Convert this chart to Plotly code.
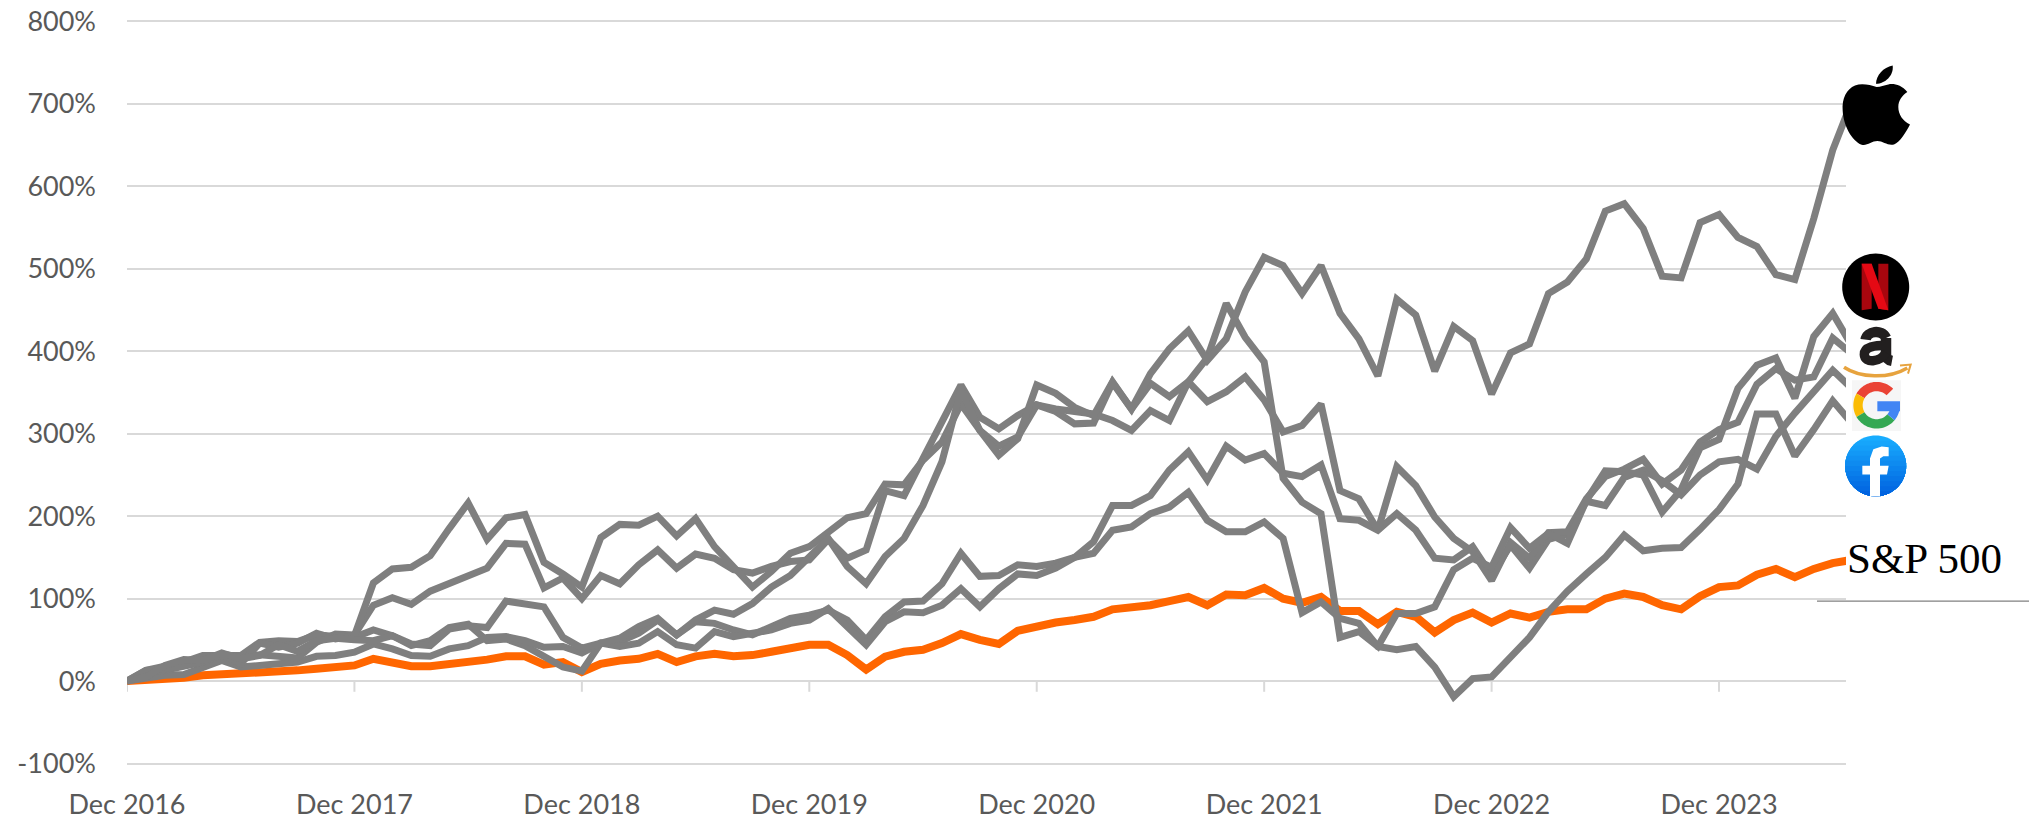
import math
import plotly.graph_objects as go

MONTH_NAMES = ["Jan", "Feb", "Mar", "Apr", "May", "Jun", "Jul", "Aug", "Sep", "Oct", "Nov", "Dec"]
months = ["Dec 2016"] + [f"{MONTH_NAMES[m]} {y}" for y in range(2017, 2025) for m in range(12)]
months = months[:92]
tick_labels = ["Dec 2016", "Dec 2017", "Dec 2018", "Dec 2019", "Dec 2020", "Dec 2021", "Dec 2022", "Dec 2023"]
y_ticks = [-100, 0, 100, 200, 300, 400, 500, 600, 700, 800]
y_tick_labels = ["-100%", "0%", "100%", "200%", "300%", "400%", "500%", "600%", "700%", "800%"]

apple = [0,
    5, 19, 26, 25, 34, 27, 31, 44, 36, 49, 52, 50,
    49, 55, 45, 43, 63, 67, 65, 97, 94, 90, 53, 40,
    46, 52, 66, 76, 56, 74, 86, 81, 94, 114, 128, 152,
    173, 139, 118, 151, 173, 213, 266, 353, 304, 274, 294, 359,
    349, 332, 322, 363, 330, 373, 403, 425, 389, 415, 472, 514,
    504, 470, 504, 446, 415, 370, 463, 444, 376, 430, 413, 348,
    398, 409, 470, 484, 512, 570, 579, 549, 491, 489, 556, 566,
    538, 527, 493, 487, 561, 644, 703]
netflix = [0,
    13, 15, 19, 23, 32, 21, 46, 41, 46, 58, 51, 55,
    119, 136, 138, 152, 185, 216, 172, 198, 202, 144, 130, 114,
    174, 190, 189, 200, 176, 197, 163, 139, 114, 133, 155, 163,
    181, 198, 203, 239, 238, 268, 290, 336, 304, 285, 296, 335,
    330, 326, 324, 316, 304, 328, 316, 363, 392, 458, 417, 387,
    246, 217, 203, 53, 60, 42, 82, 82, 90, 135, 149, 138,
    186, 161, 179, 167, 219, 255, 254, 250, 205, 232, 283, 293,
    355, 383, 392, 343, 418, 446, 407]
amazon = [0,
    10, 13, 18, 23, 33, 29, 32, 31, 28, 47, 57, 56,
    92, 101, 93, 109, 118, 127, 137, 167, 166, 113, 125, 100,
    128, 118, 141, 159, 137, 154, 149, 135, 131, 139, 145, 147,
    172, 149, 159, 231, 225, 270, 316, 359, 320, 306, 322, 335,
    327, 312, 313, 362, 330, 361, 345, 363, 339, 351, 369, 341,
    302, 310, 336, 231, 221, 183, 260, 237, 199, 173, 157, 122,
    168, 149, 180, 181, 221, 248, 257, 269, 239, 256, 290, 305,
    314, 360, 379, 365, 369, 416, 397]
google = [0,
    4, 7, 8, 17, 25, 17, 19, 21, 23, 30, 31, 35,
    45, 39, 31, 30, 39, 43, 53, 54, 49, 41, 42, 34,
    46, 42, 46, 60, 44, 40, 60, 54, 58, 62, 70, 74,
    88, 66, 44, 72, 84, 83, 92, 112, 90, 112, 130, 128,
    137, 150, 169, 213, 213, 225, 256, 278, 244, 285, 268, 276,
    252, 248, 262, 197, 195, 183, 203, 183, 149, 147, 163, 128,
    165, 137, 172, 178, 218, 213, 247, 256, 243, 226, 250, 266,
    269, 257, 297, 325, 350, 377, 355]
facebook = [0,
    13, 18, 23, 31, 32, 31, 47, 49, 48, 56, 54, 53,
    62, 55, 43, 49, 65, 69, 49, 51, 43, 29, 17, 12,
    46, 48, 58, 74, 56, 72, 70, 62, 56, 66, 76, 80,
    86, 74, 50, 78, 96, 97, 118, 155, 127, 128, 141, 139,
    143, 150, 155, 183, 187, 203, 211, 229, 195, 181, 181, 193,
    173, 83, 96, 76, 70, 42, 38, 42, 17, -19, 3, 5,
    28, 53, 84, 109, 130, 150, 177, 158, 161, 162, 184, 208,
    239, 324, 324, 273, 305, 340, 313]
sp500 = [0,
    1, 3, 4, 7, 8, 9, 10, 10.5, 13, 15, 18, 19,
    27, 22, 18, 18, 20, 22, 26, 30, 30, 20, 23, 11,
    21, 25, 27, 33, 23, 30, 33, 30, 31.5, 35.5, 40, 44,
    44, 31.5, 14, 29.5, 35.5, 38, 46, 57, 50, 45, 61, 67,
    71, 74, 78, 87, 89, 92, 97, 102, 92, 105, 104, 113,
    100, 95, 102, 85, 85, 69, 84, 78, 59, 74, 83, 71,
    82, 77, 84, 87, 87, 100, 106, 102, 92, 87, 103, 114,
    116, 129, 136, 126, 136, 143, 147]

GRAY = "#7f7f7f"
ORANGE = "#ff6600"
GRID = "#d9d9d9"
TEXT = "#595959"

# the page puts the figure 8 px in from its top-left corner
PAGE = 8
FIG_W, FIG_H = 2037 - PAGE, 820 - PAGE
# plot-area box in reference (screen) pixels; y range runs 3 units past the end grid lines
Y_PAD = 3
L, R, T, B = 127, 1846, 21 - Y_PAD * 0.825, 763.5 + Y_PAD * 0.825


def px(x, y):
    return (x - L) / (R - L), 1 - (y - T) / (B - T)


def path(points, close=True):
    parts = []
    for i, p in enumerate(points):
        x, y = px(*p)
        parts.append(("M" if i == 0 else "L") + f"{x:.5f},{y:.5f}")
    return " ".join(parts) + (" Z" if close else "")


def bez(segments):
    """segments: start point followed by (c1, c2, end) cubic triples, in pixels."""
    x, y = px(*segments[0])
    out = [f"M{x:.5f},{y:.5f}"]
    for seg in segments[1:]:
        coords = []
        for p in seg:
            a, b = px(*p)
            coords.append(f"{a:.5f},{b:.5f}")
        out.append("C" + " ".join(coords))
    return " ".join(out)


def shape_path(d, fill=None, line=None, width=0):
    return dict(type="path", xref="paper", yref="paper", path=d,
                fillcolor=fill if fill else "rgba(0,0,0,0)",
                line=dict(color=line if line else "rgba(0,0,0,0)", width=width),
                layer="above")


def z7(x, y):  # apple crop
    return 1820 + x / 3, 50 + y / 3


def z8(x, y):  # netflix / amazon crop
    return 1820 + x / 3, 245 + y / 3


def z9(x, y):  # google / facebook crop
    return 1820 + x / 3, 375 + y / 3


def curve(f, start, *triples):
    return bez([f(*start)] + [tuple(f(*p) for p in t) for t in triples])


shapes = []

# small tick marks under the zero line
for lab in tick_labels:
    shapes.append(dict(type="line", xref="x", yref="y", x0=lab, x1=lab, y0=0, y1=-13,
                       line=dict(color=GRID, width=2), layer="below"))

# rule beneath the S&P 500 label
shapes.append(dict(type="line", xref="paper", yref="paper",
                   x0=px(1817, 601)[0], x1=px(2033, 601)[0], y0=px(1817, 601)[1], y1=px(2033, 601)[1],
                   line=dict(color="#808080", width=1.2), layer="above"))

# Apple
d = curve(z7, (170, 110),
          ((150, 103), (125, 98), (105, 105)),
          ((80, 115), (65, 145), (68, 180)),
          ((70, 225), (95, 270), (125, 283)),
          ((140, 288), (155, 272), (172, 272)),
          ((190, 272), (205, 288), (222, 282)),
          ((240, 275), (258, 245), (270, 222)),
          ((248, 212), (235, 192), (235, 170)),
          ((235, 150), (247, 135), (262, 125)),
          ((245, 103), (220, 98), (205, 102)),
          ((192, 104), (182, 110), (170, 110))) + " Z"
shapes.append(shape_path(d, fill="#000000"))
d = curve(z7, (168, 100), ((168, 75), (190, 50), (218, 45)), ((222, 75), (195, 100), (168, 100))) + " Z"
shapes.append(shape_path(d, fill="#000000"))


def circle(cx, cy, r, n=72):
    return [(cx + r * math.cos(2 * math.pi * i / n), cy + r * math.sin(2 * math.pi * i / n)) for i in range(n)]


# Netflix
shapes.append(shape_path(path(circle(1875.7, 286.7, 33.5)), fill="#000000"))
shapes.append(shape_path(path([z8(125, 55), z8(155, 55), z8(155, 190), z8(125, 195)]), fill="#a8060e"))
shapes.append(shape_path(path([z8(175, 55), z8(205, 55), z8(205, 195), z8(175, 190)]), fill="#a8060e"))
shapes.append(shape_path(path([z8(125, 55), z8(155, 55), z8(205, 195), z8(175, 190)]), fill="#e50914"))

# Amazon
d = curve(z8, (137, 283), ((140, 258), (185, 250), (198, 278))) + " " + \
    curve(z8, (198, 278), ((198, 278), (198, 325), (198, 325))) + " " + \
    curve(z8, (198, 325), ((198, 340), (205, 345), (216, 347)))
shapes.append(shape_path(d, line="#221f1f", width=10.5))
d = curve(z8, (198, 300), ((165, 300), (132, 305), (133, 328)),
          ((134, 355), (180, 352), (198, 322)))
shapes.append(shape_path(d, line="#221f1f", width=9.5))
d = curve(z8, (72, 366), ((120, 398), (205, 402), (262, 368)))
shapes.append(shape_path(d, line="#e7a33e", width=3.5))
shapes.append(shape_path(path([z8(240, 361), z8(272, 358), z8(264, 385)], close=False), line="#e7a33e", width=2))

# Google
shapes.append(shape_path(path([z9(96, 15), z9(243, 15), z9(243, 167), z9(96, 167)]), fill="#f6f6f6"))


def ring(a0, a1, steps=24):
    cx, cy = z9(170, 90)
    ro, ri = 70 / 3, 42 / 3
    pts = []
    for i in range(steps + 1):
        a = math.radians(a0 + (a1 - a0) * i / steps)
        pts.append((cx + ro * math.cos(a), cy - ro * math.sin(a)))
    for i in range(steps + 1):
        a = math.radians(a1 + (a0 - a1) * i / steps)
        pts.append((cx + ri * math.cos(a), cy - ri * math.sin(a)))
    return path(pts)


shapes.append(shape_path(ring(45, 150), fill="#ea4335"))
shapes.append(shape_path(ring(150, 210), fill="#fbbc05"))
shapes.append(shape_path(ring(210, 320), fill="#34a853"))
shapes.append(shape_path(ring(-40, 0), fill="#4285f4"))
shapes.append(shape_path(path([z9(172, 78), z9(240, 78), z9(240, 108), z9(172, 108)]), fill="#4285f4"))

# Facebook: vertical shade built from stacked bands of the circle
fb_cx, fb_cy, fb_r = 1875.7, 465.7, 30.5
top_rgb, bot_rgb = (24, 172, 254), (1, 99, 224)
bands = 12
for b in range(bands):
    t = b / (bands - 1)
    col = "rgb(%d,%d,%d)" % tuple(round(top_rgb[k] + (bot_rgb[k] - top_rgb[k]) * t) for k in range(3))
    y0 = fb_cy - fb_r + 2 * fb_r * b / bands
    pts = []
    for i in range(73):
        a = math.radians(i * 5)
        x_, y_ = fb_cx + fb_r * math.cos(a), fb_cy + fb_r * math.sin(a)
        pts.append((x_, max(y_, y0)))
    shapes.append(shape_path(path(pts), fill=col))
f_pts = [z9(150, 364), z9(150, 298), z9(127, 298), z9(127, 272), z9(150, 272), z9(150, 250),
         z9(160, 222), z9(185, 214), z9(206, 216), z9(206, 243), z9(190, 243), z9(180, 250),
         z9(180, 272), z9(206, 272), z9(201, 298), z9(180, 298), z9(180, 364)]
shapes.append(shape_path(path(f_pts), fill="#ffffff"))

fig = go.Figure()
series = [("S&P 500", sp500, ORANGE, 8), ("Facebook", facebook, GRAY, 7), ("Google", google, GRAY, 7),
          ("Amazon", amazon, GRAY, 7), ("Netflix", netflix, GRAY, 7), ("Apple", apple, GRAY, 7)]
for name, values, color, width in series:
    fig.add_trace(go.Scatter(x=months, y=values, name=name, mode="lines",
                             line=dict(color=color, width=width, shape="linear"),
                             hoverinfo="x+y+name"))

fig.add_annotation(xref="paper", yref="paper", x=px(1845, 0)[0], y=px(0, 558)[1], xanchor="left", yanchor="middle",
                   text="S&P 500", showarrow=False,
                   font=dict(family="Liberation Serif", size=43, color="#000000"))

fig.update_layout(
    width=FIG_W, height=FIG_H, autosize=False,
    margin=dict(l=L - PAGE, r=FIG_W - (R - PAGE), t=T - PAGE, b=FIG_H - (B - PAGE), pad=0),
    paper_bgcolor="#ffffff", plot_bgcolor="#ffffff", showlegend=False,
    font=dict(family="Lato", size=27, color=TEXT),
    shapes=shapes,
    xaxis=dict(type="category", categoryorder="array", categoryarray=months, range=[0, 90.7],
               tickmode="array", tickvals=tick_labels, ticktext=tick_labels, ticks="",
               showgrid=False, zeroline=False, showline=False, ticklabelstandoff=20,
               ticklabeloverflow="allow",
               tickfont=dict(family="Lato", size=27, color=TEXT), automargin=False),
    yaxis=dict(range=[-100 - Y_PAD, 800 + Y_PAD], tickmode="array", tickvals=y_ticks, ticktext=y_tick_labels,
               ticks="", showgrid=True, gridcolor=GRID, gridwidth=2, zeroline=False,
               showline=False, ticklabelstandoff=30, ticklabeloverflow="allow",
               tickfont=dict(family="Lato", size=27, color=TEXT), automargin=False),
)

fig.write_html("out.html")
